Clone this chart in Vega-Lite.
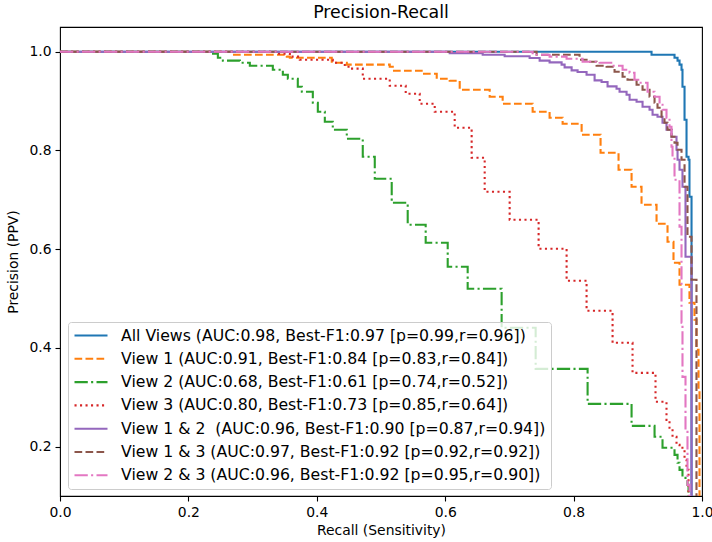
{
  "$schema": "https://vega.github.io/schema/vega-lite/v6.json",
  "width": 642,
  "height": 469,
  "autosize": {"type": "none"},
  "padding": {"left": 60, "top": 27, "right": 10, "bottom": 46},
  "background": "white",
  "title": {"text": "Precision-Recall"},
  "data": {"values": [
    {"s":"All Views","r":0,"p":1},{"s":"All Views","r":0.9214,"p":0.9939},{"s":"All Views","r":0.9572,"p":0.9878},{"s":"All Views","r":0.9619,"p":0.9818},{"s":"All Views","r":0.9650,"p":0.9737},{"s":"All Views","r":0.9681,"p":0.9635},{"s":"All Views","r":0.9696,"p":0.9291},{"s":"All Views","r":0.9728,"p":0.8622},{"s":"All Views","r":0.9759,"p":0.7872},{"s":"All Views","r":0.9790,"p":0.7812},{"s":"All Views","r":0.9805,"p":0.7062},{"s":"All Views","r":0.9837,"p":0.05},

    {"s":"View 1","r":0,"p":1},{"s":"View 1","r":0.2677,"p":0.9939},{"s":"View 1","r":0.3533,"p":0.9899},{"s":"View 1","r":0.3580,"p":0.9878},{"s":"View 1","r":0.4233,"p":0.9777},{"s":"View 1","r":0.4467,"p":0.9737},{"s":"View 1","r":0.5136,"p":0.9696},{"s":"View 1","r":0.5183,"p":0.9615},{"s":"View 1","r":0.5650,"p":0.9554},{"s":"View 1","r":0.5868,"p":0.9453},{"s":"View 1","r":0.6070,"p":0.9412},{"s":"View 1","r":0.6226,"p":0.9230},{"s":"View 1","r":0.6693,"p":0.9088},{"s":"View 1","r":0.6895,"p":0.8946},{"s":"View 1","r":0.7362,"p":0.8784},{"s":"View 1","r":0.7626,"p":0.8663},{"s":"View 1","r":0.7829,"p":0.8541},{"s":"View 1","r":0.8125,"p":0.8318},{"s":"View 1","r":0.8420,"p":0.7953},{"s":"View 1","r":0.8700,"p":0.7609},{"s":"View 1","r":0.8903,"p":0.7264},{"s":"View 1","r":0.9058,"p":0.6900},{"s":"View 1","r":0.9292,"p":0.6515},{"s":"View 1","r":0.9463,"p":0.6150},{"s":"View 1","r":0.9556,"p":0.5724},{"s":"View 1","r":0.9650,"p":0.5279},{"s":"View 1","r":0.9805,"p":0.4914},{"s":"View 1","r":0.9883,"p":0.4569},{"s":"View 1","r":0.9914,"p":0.3961},{"s":"View 1","r":0.9946,"p":0.3151},{"s":"View 1","r":0.9961,"p":0.05},

    {"s":"View 2","r":0,"p":1},{"s":"View 2","r":0.2335,"p":0.9959},{"s":"View 2","r":0.2459,"p":0.9878},{"s":"View 2","r":0.2537,"p":0.9818},{"s":"View 2","r":0.2802,"p":0.9777},{"s":"View 2","r":0.2957,"p":0.9716},{"s":"View 2","r":0.3315,"p":0.9635},{"s":"View 2","r":0.3471,"p":0.9534},{"s":"View 2","r":0.3549,"p":0.9453},{"s":"View 2","r":0.3704,"p":0.9291},{"s":"View 2","r":0.3767,"p":0.9189},{"s":"View 2","r":0.3938,"p":0.8967},{"s":"View 2","r":0.4016,"p":0.8784},{"s":"View 2","r":0.4125,"p":0.8582},{"s":"View 2","r":0.4249,"p":0.8419},{"s":"View 2","r":0.4467,"p":0.8237},{"s":"View 2","r":0.4716,"p":0.7872},{"s":"View 2","r":0.4903,"p":0.7427},{"s":"View 2","r":0.5167,"p":0.6940},{"s":"View 2","r":0.5416,"p":0.6495},{"s":"View 2","r":0.5696,"p":0.6130},{"s":"View 2","r":0.6039,"p":0.5643},{"s":"View 2","r":0.6350,"p":0.5198},{"s":"View 2","r":0.6879,"p":0.4407},{"s":"View 2","r":0.7409,"p":0.3576},{"s":"View 2","r":0.8218,"p":0.2867},{"s":"View 2","r":0.8903,"p":0.2421},{"s":"View 2","r":0.9261,"p":0.2199},{"s":"View 2","r":0.9385,"p":0.1976},{"s":"View 2","r":0.9572,"p":0.1834},{"s":"View 2","r":0.9619,"p":0.1672},{"s":"View 2","r":0.9650,"p":0.1530},{"s":"View 2","r":0.9696,"p":0.1368},{"s":"View 2","r":0.9774,"p":0.1226},{"s":"View 2","r":0.9790,"p":0.05},

    {"s":"View 3","r":0,"p":1},{"s":"View 3","r":0.3377,"p":0.9959},{"s":"View 3","r":0.3580,"p":0.9899},{"s":"View 3","r":0.3735,"p":0.9838},{"s":"View 3","r":0.4249,"p":0.9777},{"s":"View 3","r":0.4436,"p":0.9696},{"s":"View 3","r":0.4514,"p":0.9656},{"s":"View 3","r":0.4716,"p":0.9453},{"s":"View 3","r":0.5136,"p":0.9311},{"s":"View 3","r":0.5385,"p":0.9149},{"s":"View 3","r":0.5603,"p":0.8946},{"s":"View 3","r":0.5837,"p":0.8784},{"s":"View 3","r":0.6148,"p":0.8460},{"s":"View 3","r":0.6412,"p":0.7852},{"s":"View 3","r":0.6615,"p":0.7163},{"s":"View 3","r":0.7004,"p":0.6596},{"s":"View 3","r":0.7455,"p":0.6008},{"s":"View 3","r":0.7891,"p":0.5360},{"s":"View 3","r":0.8202,"p":0.4752},{"s":"View 3","r":0.8607,"p":0.4103},{"s":"View 3","r":0.8918,"p":0.3495},{"s":"View 3","r":0.9276,"p":0.2908},{"s":"View 3","r":0.9447,"p":0.2543},{"s":"View 3","r":0.9494,"p":0.2381},{"s":"View 3","r":0.9541,"p":0.2199},{"s":"View 3","r":0.9603,"p":0.2036},{"s":"View 3","r":0.9650,"p":0.1976},{"s":"View 3","r":0.9728,"p":0.1733},{"s":"View 3","r":0.9759,"p":0.1530},{"s":"View 3","r":0.9790,"p":0.05},

    {"s":"View 1 & 2","r":0,"p":1},{"s":"View 1 & 2","r":0.6070,"p":0.9970},{"s":"View 1 & 2","r":0.6584,"p":0.9939},{"s":"View 1 & 2","r":0.6926,"p":0.9909},{"s":"View 1 & 2","r":0.7315,"p":0.9872},{"s":"View 1 & 2","r":0.7471,"p":0.9818},{"s":"View 1 & 2","r":0.7626,"p":0.9783},{"s":"View 1 & 2","r":0.7813,"p":0.9737},{"s":"View 1 & 2","r":0.7860,"p":0.9682},{"s":"View 1 & 2","r":0.7969,"p":0.9621},{"s":"View 1 & 2","r":0.8062,"p":0.9589},{"s":"View 1 & 2","r":0.8202,"p":0.9534},{"s":"View 1 & 2","r":0.8327,"p":0.9418},{"s":"View 1 & 2","r":0.8436,"p":0.9386},{"s":"View 1 & 2","r":0.8529,"p":0.9297},{"s":"View 1 & 2","r":0.8669,"p":0.9250},{"s":"View 1 & 2","r":0.8716,"p":0.9189},{"s":"View 1 & 2","r":0.8825,"p":0.9129},{"s":"View 1 & 2","r":0.8872,"p":0.9027},{"s":"View 1 & 2","r":0.8981,"p":0.8987},{"s":"View 1 & 2","r":0.9074,"p":0.8886},{"s":"View 1 & 2","r":0.9183,"p":0.8825},{"s":"View 1 & 2","r":0.9230,"p":0.8723},{"s":"View 1 & 2","r":0.9307,"p":0.8683},{"s":"View 1 & 2","r":0.9385,"p":0.8561},{"s":"View 1 & 2","r":0.9447,"p":0.8419},{"s":"View 1 & 2","r":0.9525,"p":0.8278},{"s":"View 1 & 2","r":0.9603,"p":0.8014},{"s":"View 1 & 2","r":0.9619,"p":0.7812},{"s":"View 1 & 2","r":0.9650,"p":0.7609},{"s":"View 1 & 2","r":0.9696,"p":0.7264},{"s":"View 1 & 2","r":0.9743,"p":0.5846},{"s":"View 1 & 2","r":0.9837,"p":0.05},

    {"s":"View 1 & 3","r":0,"p":1},{"s":"View 1 & 3","r":0.7424,"p":0.9939},{"s":"View 1 & 3","r":0.8093,"p":0.9838},{"s":"View 1 & 3","r":0.8202,"p":0.9797},{"s":"View 1 & 3","r":0.8358,"p":0.9716},{"s":"View 1 & 3","r":0.8514,"p":0.9696},{"s":"View 1 & 3","r":0.8638,"p":0.9595},{"s":"View 1 & 3","r":0.8763,"p":0.9493},{"s":"View 1 & 3","r":0.8840,"p":0.9433},{"s":"View 1 & 3","r":0.8981,"p":0.9331},{"s":"View 1 & 3","r":0.9074,"p":0.9230},{"s":"View 1 & 3","r":0.9183,"p":0.9088},{"s":"View 1 & 3","r":0.9261,"p":0.8967},{"s":"View 1 & 3","r":0.9307,"p":0.8865},{"s":"View 1 & 3","r":0.9370,"p":0.8683},{"s":"View 1 & 3","r":0.9416,"p":0.8561},{"s":"View 1 & 3","r":0.9463,"p":0.8419},{"s":"View 1 & 3","r":0.9525,"p":0.8278},{"s":"View 1 & 3","r":0.9572,"p":0.8156},{"s":"View 1 & 3","r":0.9619,"p":0.8014},{"s":"View 1 & 3","r":0.9681,"p":0.7812},{"s":"View 1 & 3","r":0.9728,"p":0.7264},{"s":"View 1 & 3","r":0.9774,"p":0.6251},{"s":"View 1 & 3","r":0.9837,"p":0.5380},{"s":"View 1 & 3","r":0.9914,"p":0.05},

    {"s":"View 2 & 3","r":0,"p":1},{"s":"View 2 & 3","r":0.7362,"p":0.9939},{"s":"View 2 & 3","r":0.7626,"p":0.9899},{"s":"View 2 & 3","r":0.7891,"p":0.9858},{"s":"View 2 & 3","r":0.8140,"p":0.9797},{"s":"View 2 & 3","r":0.8405,"p":0.9777},{"s":"View 2 & 3","r":0.8607,"p":0.9716},{"s":"View 2 & 3","r":0.8763,"p":0.9635},{"s":"View 2 & 3","r":0.8872,"p":0.9574},{"s":"View 2 & 3","r":0.8949,"p":0.9433},{"s":"View 2 & 3","r":0.9027,"p":0.9372},{"s":"View 2 & 3","r":0.9152,"p":0.9189},{"s":"View 2 & 3","r":0.9261,"p":0.9088},{"s":"View 2 & 3","r":0.9339,"p":0.8926},{"s":"View 2 & 3","r":0.9385,"p":0.8825},{"s":"View 2 & 3","r":0.9447,"p":0.8663},{"s":"View 2 & 3","r":0.9494,"p":0.8480},{"s":"View 2 & 3","r":0.9525,"p":0.8075},{"s":"View 2 & 3","r":0.9541,"p":0.7872},{"s":"View 2 & 3","r":0.9572,"p":0.7406},{"s":"View 2 & 3","r":0.9650,"p":0.6454},{"s":"View 2 & 3","r":0.9681,"p":0.4508},{"s":"View 2 & 3","r":0.9696,"p":0.3414},{"s":"View 2 & 3","r":0.9743,"p":0.2340},{"s":"View 2 & 3","r":0.9774,"p":0.1226},{"s":"View 2 & 3","r":0.9805,"p":0.05}
  ]},
  "mark": {"type": "line", "interpolate": "step-after", "strokeWidth": 2.1, "clip": true},
  "encoding": {
    "x": {"field": "r", "type": "quantitative", "sort": null,
      "scale": {"domain": [0, 1], "nice": false, "zero": false},
      "axis": {"title": "Recall (Sensitivity)", "values": [0, 0.2, 0.4, 0.6, 0.8, 1.0], "format": ".1f"}},
    "y": {"field": "p", "type": "quantitative",
      "scale": {"domain": [0.1, 1.05], "nice": false, "zero": false},
      "axis": {"title": "Precision (PPV)", "values": [0.2, 0.4, 0.6, 0.8, 1.0], "format": ".1f"}},
    "order": {"field": "r", "type": "quantitative"},
    "color": {"field": "s", "type": "nominal",
      "scale": {"domain": ["All Views", "View 1", "View 2", "View 3", "View 1 & 2", "View 1 & 3", "View 2 & 3"],
        "range": ["#1f77b4", "#ff7f0e", "#2ca02c", "#d62728", "#9467bd", "#8c564b", "#e377c2"]},
      "legend": {"title": null, "labelExpr": "{'All Views':'All Views (AUC:0.98, Best-F1:0.97 [p=0.99,r=0.96])','View 1':'View 1 (AUC:0.91, Best-F1:0.84 [p=0.83,r=0.84])','View 2':'View 2 (AUC:0.68, Best-F1:0.61 [p=0.74,r=0.52])','View 3':'View 3 (AUC:0.80, Best-F1:0.73 [p=0.85,r=0.64])','View 1 & 2':'View 1 & 2\u00a0 (AUC:0.96, Best-F1:0.90 [p=0.87,r=0.94])','View 1 & 3':'View 1 & 3 (AUC:0.97, Best-F1:0.92 [p=0.92,r=0.92])','View 2 & 3':'View 2 & 3 (AUC:0.96, Best-F1:0.92 [p=0.95,r=0.90])'}[datum.label]"}},
    "strokeDash": {"field": "s", "type": "nominal",
      "scale": {"domain": ["All Views", "View 1", "View 2", "View 3", "View 1 & 2", "View 1 & 3", "View 2 & 3"],
        "range": [[1, 0], [7.7, 3.3], [13.3, 3.3, 2.1, 3.3], [2.1, 3.4], [1, 0], [7.7, 3.3], [13.3, 3.3, 2.1, 3.3]]},
      "legend": {"title": null, "labelExpr": "{'All Views':'All Views (AUC:0.98, Best-F1:0.97 [p=0.99,r=0.96])','View 1':'View 1 (AUC:0.91, Best-F1:0.84 [p=0.83,r=0.84])','View 2':'View 2 (AUC:0.68, Best-F1:0.61 [p=0.74,r=0.52])','View 3':'View 3 (AUC:0.80, Best-F1:0.73 [p=0.85,r=0.64])','View 1 & 2':'View 1 & 2\u00a0 (AUC:0.96, Best-F1:0.90 [p=0.87,r=0.94])','View 1 & 3':'View 1 & 3 (AUC:0.97, Best-F1:0.92 [p=0.92,r=0.92])','View 2 & 3':'View 2 & 3 (AUC:0.96, Best-F1:0.92 [p=0.95,r=0.90])'}[datum.label]"}}
  },
  "config": {
    "font": "DejaVu Sans",
    "view": {"stroke": "#000", "strokeWidth": 1.1},
    "axis": {"domain": false, "grid": false, "tickColor": "#000", "tickSize": 5, "tickWidth": 1.1,
      "labelColor": "#000", "labelFontSize": 13.9, "labelPadding": 4, "labelFont": "DejaVu Sans",
      "titleFontSize": 13.9, "titleFontWeight": "normal", "titleColor": "#000", "titleFont": "DejaVu Sans"},
    "axisX": {"titlePadding": 5, "labelFlush": false},
    "axisY": {"titlePadding": 8, "labelFlush": false},
    "legend": {"orient": "none", "legendX": 8, "legendY": 295, "direction": "vertical", "zindex": 1,
      "padding": 5, "rowPadding": 6.3, "clipHeight": 17, "symbolType": "stroke", "symbolSize": 1089, "symbolStrokeWidth": 2.1,
      "labelFontSize": 15.7, "labelFont": "DejaVu Sans", "labelColor": "#000", "labelOffset": 12, "labelLimit": 1000,
      "fillColor": "rgba(255,255,255,0.8)", "strokeColor": "#cccccc", "cornerRadius": 3},
    "title": {"fontSize": 17.4, "fontWeight": "normal", "font": "DejaVu Sans", "color": "#000", "offset": 6}
  }
}
